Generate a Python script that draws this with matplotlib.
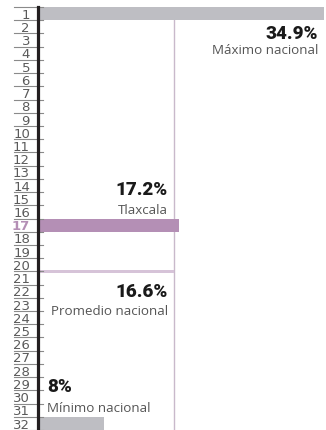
import matplotlib
matplotlib.use("Agg")
import matplotlib.pyplot as plt
from matplotlib.transforms import blended_transform_factory

# datos
rows = list(range(1, 33))
bar_rows = [1, 17, 32]
bar_values = [34.9, 17.2, 8.0]
bar_colors = ["#bebec3", "#b48fb5", "#bebec3"]
promedio = 16.6
promedio_row = 20.5
highlight_row = 17

W, H = 326, 431
fig = plt.figure(figsize=(W / 100, H / 100), dpi=100)
ax = fig.add_axes([38 / W, 0, 1 - 38 / W, 1 - 8 / H])
ax.set_xlim(0, (W - 38) / 8.2)
ax.set_ylim(32.5, 0.5)
ax.axis("off")

# barras
ax.barh(bar_rows, bar_values, height=1.0, color=bar_colors, zorder=2)
# línea del promedio
ax.barh([promedio_row], [promedio], height=0.22, color="#d6c3d8", zorder=2)
ax.plot([promedio, promedio], [1.5, 32.5], color="#c9b9cb", lw=1.0, zorder=1, clip_on=False)

# eje y marcas
trans = blended_transform_factory(fig.transFigure, ax.transData)
ax.plot([38 / W, 38 / W], [0.5, 32.5], color="#231f20", lw=2.3, transform=trans, clip_on=False, zorder=5)
for r in range(0, 33):
    ax.plot([14 / W, 43 / W], [r + 0.5, r + 0.5], color="#8a8a8a", lw=0.8,
            transform=trans, clip_on=False, zorder=4)
for r in rows:
    hl = r == highlight_row
    ax.text(30 / W, r + 0.05, str(r), transform=trans, ha="right", va="center",
            fontsize=9.5, family=["Liberation Sans Narrow", "DejaVu Sans"],
            color="#b48fb5" if hl else "#5a5a5a",
            fontweight="bold" if hl else "normal")

# etiquetas
big = dict(fontsize=13.5, fontweight=900, family=["Roboto", "Lato", "DejaVu Sans"], color="#1a1a1a")
small = dict(fontsize=9.6, family=["Open Sans", "DejaVu Sans"], color="#555555")

ax.text(bar_values[0] - 0.75, 2.45, "34.9%", ha="right", va="center", **big)
ax.text(bar_values[0] - 0.75, 3.7, "Máximo nacional", ha="right", va="center", **small)
ax.text(promedio - 0.75, 14.3, "17.2%", ha="right", va="center", **big)
ax.text(promedio - 0.75, 15.8, "Tlaxcala", ha="right", va="center", **small)
ax.text(promedio - 0.75, 22.0, "16.6%", ha="right", va="center", **big)
ax.text(promedio - 0.75, 23.45, "Promedio nacional", ha="right", va="center", **small)
ax.text(1.1, 29.2, "8%", ha="left", va="center", **big)
ax.text(1.1, 30.8, "Mínimo nacional", ha="left", va="center", **small)

fig.savefig("out.png", dpi=100)
